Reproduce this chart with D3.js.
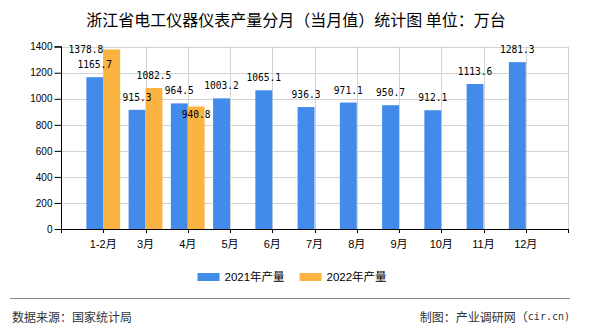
<!DOCTYPE html>
<html><head><meta charset="utf-8">
<script src="https://cdn.jsdelivr.net/npm/d3@7/dist/d3.min.js"></script>
<style>
html,body{margin:0;padding:0;background:#fff;}
svg{display:block;}
</style></head>
<body>
<svg id="chart" width="590" height="330"></svg>
<script>
const title = "浙江省电工仪器仪表产量分月（当月值）统计图 单位：万台";
const categories = ["1-2月","3月","4月","5月","6月","7月","8月","9月","10月","11月","12月"];
const series2021 = [1165.7,915.3,964.5,1003.2,1065.1,936.3,971.1,950.7,912.1,1113.6,1281.3];
const series2022 = [1378.8,1082.5,940.8,null,null,null,null,null,null,null,null];
const seriesNames = ["2021年产量","2022年产量"];
const seriesColors = ["#428BEB","#FBB441"];
const yTicks = [0,200,400,600,800,1000,1200,1400];
const sourceText = "数据来源：国家统计局";
const creditText = "制图：产业调研网（";
const creditSite = "cir.cn)";

const svg = d3.select("#chart");
const pL = 61, pR = 568, pT = 46.7, pB = 229;
const n = categories.length;
const step = (pR - pL) / (n + 1);

const x = d3.scaleBand().domain(categories).range([pL + step/2, pR - step/2]).paddingInner(0).paddingOuter(0);
const y = d3.scaleLinear().domain([0,1400]).range([pB, pT]);
const cx = c => x(c) + x.bandwidth()/2;
const barW = step * 0.4;

const grid = svg.append("g").attr("stroke","#d3d3d3").attr("stroke-width",1);
yTicks.forEach(t => {
  if (t === 0) return;
  grid.append("line").attr("x1",pL).attr("x2",pR)
    .attr("y1",Math.round(y(t))+0.5).attr("y2",Math.round(y(t))+0.5);
});
const vlines = categories.map(cx).concat([pR]);
vlines.forEach(v => {
  grid.append("line").attr("x1",Math.round(v)+0.5).attr("x2",Math.round(v)+0.5)
    .attr("y1",pT).attr("y2",pB);
});

// bars
const data = [series2021, series2022];
data.forEach((s, si) => {
  svg.append("g").selectAll("rect").data(categories.map((c,i)=>({c, v:s[i]})).filter(d=>d.v!=null))
    .join("rect")
    .attr("x", d => si === 0 ? cx(d.c) - barW : cx(d.c))
    .attr("width", barW)
    .attr("y", d => y(d.v))
    .attr("height", d => pB - y(d.v))
    .attr("fill", seriesColors[si]);
});

// axes
const yAxis = d3.axisLeft(y).tickValues(yTicks).tickSize(7).tickPadding(2).tickFormat(d3.format("d"));
const ga = svg.append("g").attr("transform",`translate(${pL+0.5},0)`).call(yAxis);
ga.selectAll("text").attr("font-family","'Liberation Sans',Arial,sans-serif").attr("font-size","10px").attr("fill","#000");
ga.selectAll("line").attr("stroke","#000");
ga.select(".domain").attr("stroke","#000").attr("d",`M-7,${y(1400)}H0V${pB+0.5}`);

const xg = svg.append("g");
xg.append("line").attr("x1",pL).attr("x2",pR+0.5).attr("y1",pB+0.5).attr("y2",pB+0.5).attr("stroke","#000");
[pL].concat(vlines).forEach(v => {
  xg.append("line").attr("x1",Math.round(v)+0.5).attr("x2",Math.round(v)+0.5)
    .attr("y1",pB).attr("y2",pB+4).attr("stroke","#000");
});
xg.selectAll("text.xl").data(categories).join("text").attr("class","xl")
  .attr("x", d => cx(d)).attr("y", 243.5)
  .attr("text-anchor","middle").attr("dominant-baseline","central")
  .attr("font-family","'Liberation Sans','Noto Sans CJK SC',sans-serif").attr("font-size","11px")
  .attr("fill","#000").text(d=>d);

// value labels
const lblFont = "'DejaVu Sans Mono',monospace";
const lblSize = 9.6;
const charW = 5.78;
const placed = [];
data.forEach((s, si) => {
  categories.forEach((c,i) => {
    const v = s[i];
    if (v == null) return;
    const txt = v.toFixed(1);
    const w = txt.length * charW;
    const bx = si === 0 ? cx(c) - barW/2 : cx(c) + barW/2;
    let tx = bx, ty = y(v) - 9, anchor = "middle";
    if (ty < pT) {
      tx = cx(c); ty = y(v) + 4; anchor = "end";
    } else {
      const box = {x0: bx - w/2, x1: bx + w/2, y0: ty - 8, y1: ty};
      const hit = placed.some(p => box.x0 < p.x1 && box.x1 > p.x0 && box.y0 < p.y1 && box.y1 > p.y0);
      if (hit) ty = y(v) + 12;
    }
    const x0 = anchor === "end" ? tx - w : tx - w/2;
    placed.push({x0, x1: x0 + w, y0: ty - 8, y1: ty});
    svg.append("text").attr("x",tx).attr("y",ty).attr("text-anchor",anchor)
      .attr("font-family",lblFont).attr("font-size",lblSize+"px").attr("fill","#000").text(txt);
  });
});

// title
svg.append("text").attr("x",296).attr("y",18.5).attr("text-anchor","middle").attr("dominant-baseline","central")
  .attr("font-family","'Noto Sans CJK SC',sans-serif").attr("font-size","16px").attr("fill","#000").text(title);

// legend
const legX = [197.5, 299.5];
seriesNames.forEach((nm, i) => {
  svg.append("rect").attr("x",legX[i]).attr("y",273).attr("width",22).attr("height",8).attr("fill",seriesColors[i]);
  svg.append("text").attr("x",legX[i]+27).attr("y",277.3).attr("dominant-baseline","central")
    .attr("font-family","'Liberation Sans','Noto Sans CJK SC',sans-serif").attr("font-size","11.5px")
    .attr("fill","#000").text(nm);
});

// footer
svg.append("line").attr("x1",10).attr("x2",570).attr("y1",298.5).attr("y2",298.5).attr("stroke","#888").attr("stroke-width",1);
svg.append("text").attr("x",12).attr("y",316).attr("dominant-baseline","central")
  .attr("font-family","'Noto Sans CJK SC',sans-serif").attr("font-size","12px").attr("fill","#333").text(sourceText);
const ct = svg.append("text").attr("x",570).attr("y",316).attr("dominant-baseline","central").attr("text-anchor","end")
  .attr("font-family","'Noto Sans CJK SC',sans-serif").attr("font-size","12px").attr("fill","#333");
ct.append("tspan").text(creditText);
ct.append("tspan").attr("font-family","'DejaVu Sans Mono',monospace").attr("font-size","10px").text(creditSite);
</script>
</body></html>
